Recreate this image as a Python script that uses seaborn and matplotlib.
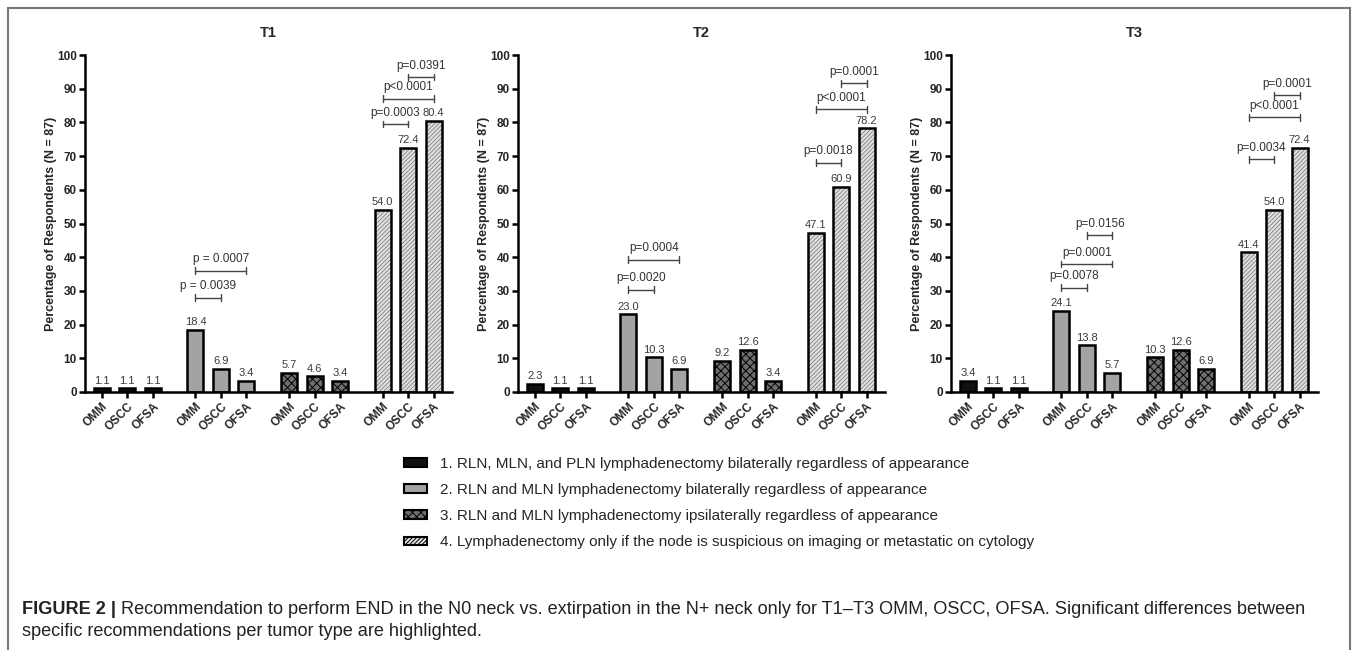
import pandas as pd
import numpy as np
import matplotlib
matplotlib.use("Agg")
import matplotlib.pyplot as plt
from matplotlib.patches import Rectangle
import seaborn as sns

# ---- data ----
tumors = ["OMM", "OSCC", "OFSA"]
options = [
    "1. RLN, MLN, and PLN lymphadenectomy bilaterally regardless of appearance",
    "2. RLN and MLN lymphadenectomy bilaterally regardless of appearance",
    "3. RLN and MLN lymphadenectomy ipsilaterally regardless of appearance",
    "4. Lymphadenectomy only if the node is suspicious on imaging or metastatic on cytology",
]
panels = ["T1", "T2", "T3"]

t1_values = [[1.1, 1.1, 1.1], [18.4, 6.9, 3.4], [5.7, 4.6, 3.4], [54.0, 72.4, 80.4]]
t2_values = [[2.3, 1.1, 1.1], [23.0, 10.3, 6.9], [9.2, 12.6, 3.4], [47.1, 60.9, 78.2]]
t3_values = [[3.4, 1.1, 1.1], [24.1, 13.8, 5.7], [10.3, 12.6, 6.9], [41.4, 54.0, 72.4]]

# significance brackets: (option index, tumor a, tumor b, bracket height, label)
t1_pvals = [(1, 0, 1, 28.0, "p = 0.0039"), (1, 0, 2, 36.0, "p = 0.0007"),
            (3, 0, 1, 79.5, "p=0.0003"), (3, 0, 2, 87.0, "p<0.0001"),
            (3, 1, 2, 93.5, "p=0.0391")]
t2_pvals = [(1, 0, 1, 30.4, "p=0.0020"), (1, 0, 2, 39.3, "p=0.0004"),
            (3, 0, 1, 68.1, "p=0.0018"), (3, 0, 2, 83.9, "p<0.0001"),
            (3, 1, 2, 91.6, "p=0.0001")]
t3_pvals = [(1, 0, 1, 31.0, "p=0.0078"), (1, 0, 2, 38.0, "p=0.0001"),
            (1, 1, 2, 46.5, "p=0.0156"),
            (3, 0, 1, 69.1, "p=0.0034"), (3, 0, 2, 81.5, "p<0.0001"),
            (3, 1, 2, 88.0, "p=0.0001")]

all_values = [t1_values, t2_values, t3_values]
all_pvals = [t1_pvals, t2_pvals, t3_pvals]

# ---- style ----
sns.set_theme(style="white")
plt.rcParams["font.family"] = ["Liberation Sans", "DejaVu Sans"]
plt.rcParams["hatch.linewidth"] = 0.7

face_colors = ["#111111", "#a3a3a6", "#6e6e6e", "#e2e2e2"]
hatches = [None, None, "xxxx", "////////"]
# hatch follows the edge colour, so the light hatch gets a separate outline
hatch_colors = ["black", "black", "black", "#8c8c8c"]
group_step = 3.67


def pos(g, t):
    return g * group_step + t


fig = plt.figure(figsize=(13.58, 6.5), dpi=100)
W, H = 1358, 650
axes_left = [85, 518, 951]
ax_w = 367 / W
ax_b = (H - 392) / H
ax_h = (392 - 55) / H

for p, name in enumerate(panels):
    ax = fig.add_axes([axes_left[p] / W, ax_b, ax_w, ax_h])
    rows = []
    for g, opt in enumerate(options):
        for t, tum in enumerate(tumors):
            rows.append({"pos": pos(g, t), "value": all_values[p][g][t],
                         "option": opt, "tumor": tum})
    df = pd.DataFrame(rows)

    sns.barplot(data=df, x="pos", y="value", hue="option", hue_order=options,
                palette=face_colors, native_scale=True, dodge=False,
                width=0.63, edgecolor="black", linewidth=1.8,
                errorbar=None, legend=False, ax=ax)

    for g, cont in enumerate(ax.containers):
        for bar in cont:
            bar.set_edgecolor(hatch_colors[g])
            if hatches[g]:
                bar.set_hatch(hatches[g])
            if hatch_colors[g] != "black":
                bar.set_linewidth(0)
                outline = Rectangle(bar.get_xy(), bar.get_width(), bar.get_height(),
                                    fill=False, edgecolor="black", lw=1.8, zorder=3)
                ax.add_patch(outline)
        ax.bar_label(cont, fmt="%.1f", padding=2, fontsize=8, color="#3a3a3a")

    # brackets
    for g, a, b, y, txt in all_pvals[p]:
        x1, x2 = pos(g, a), pos(g, b)
        ax.plot([x1, x2], [y, y], color="#444444", lw=1)
        ax.plot([x1, x1], [y - 1, y + 1], color="#444444", lw=1)
        ax.plot([x2, x2], [y - 1, y + 1], color="#444444", lw=1)
        ax.text((x1 + x2) / 2, y + 1.6, txt, ha="center", va="bottom",
                fontsize=8.5, color="#333333")

    ax.set_xlim(-0.66, 13.73)
    ax.set_ylim(0, 100)
    ax.set_yticks(range(0, 101, 10))
    ax.set_xticks(df["pos"])
    ax.set_xticklabels(df["tumor"], rotation=45, ha="right",
                       rotation_mode="anchor", fontweight="bold", fontsize=8.5)
    for lab in ax.get_yticklabels():
        lab.set_fontweight("bold")
        lab.set_fontsize(8.5)
    ax.tick_params(axis="both", direction="out", length=4, width=1.8,
                   color="black", bottom=True, left=True, pad=2)
    ax.set_xlabel("")
    ax.set_ylabel("Percentage of Respondents (N = 87)", fontweight="bold",
                  fontsize=9, labelpad=0)
    sns.despine(ax=ax)
    for s in ["left", "bottom"]:
        ax.spines[s].set_linewidth(1.8)
        ax.spines[s].set_color("black")
    ax.set_title(name, fontweight="bold", fontsize=10.5, pad=13)
    if p == 0:
        legend_handles = list(ax.containers)

leg = fig.legend(legend_handles, options, loc="upper left",
                 bbox_to_anchor=(390 / W, 1 - 443 / H), frameon=False,
                 fontsize=11, handlelength=1.5, handleheight=0.5,
                 handletextpad=0.9, labelspacing=0.8)
for h in leg.legend_handles:
    h.set_edgecolor("black")
    h.set_linewidth(1.5)

# frame and caption
frame = Rectangle((8 / W, -0.05), (1350 - 8) / W, 1.05 - 8 / H,
                  transform=fig.transFigure, fill=False,
                  edgecolor="#777777", lw=1.5, clip_on=False)
fig.add_artist(frame)

cap_y1 = 1 - 609 / H
cap_y2 = 1 - 631 / H
cap_size = 13.1
bold = fig.text(22 / W, cap_y1, "FIGURE 2 |", fontweight="bold", fontsize=cap_size,
                va="center", color="#222222")
fig.canvas.draw()
bb = bold.get_window_extent(fig.canvas.get_renderer())
fig.text(bb.x1 / W + 5 / W, cap_y1,
         "Recommendation to perform END in the N0 neck vs. extirpation in the N+ neck "
         "only for T1\u2013T3 OMM, OSCC, OFSA. Significant differences between",
         fontsize=cap_size, va="center", color="#222222")
fig.text(22 / W, cap_y2, "specific recommendations per tumor type are highlighted.",
         fontsize=cap_size, va="center", color="#222222")

fig.savefig("out.png", dpi=100)
